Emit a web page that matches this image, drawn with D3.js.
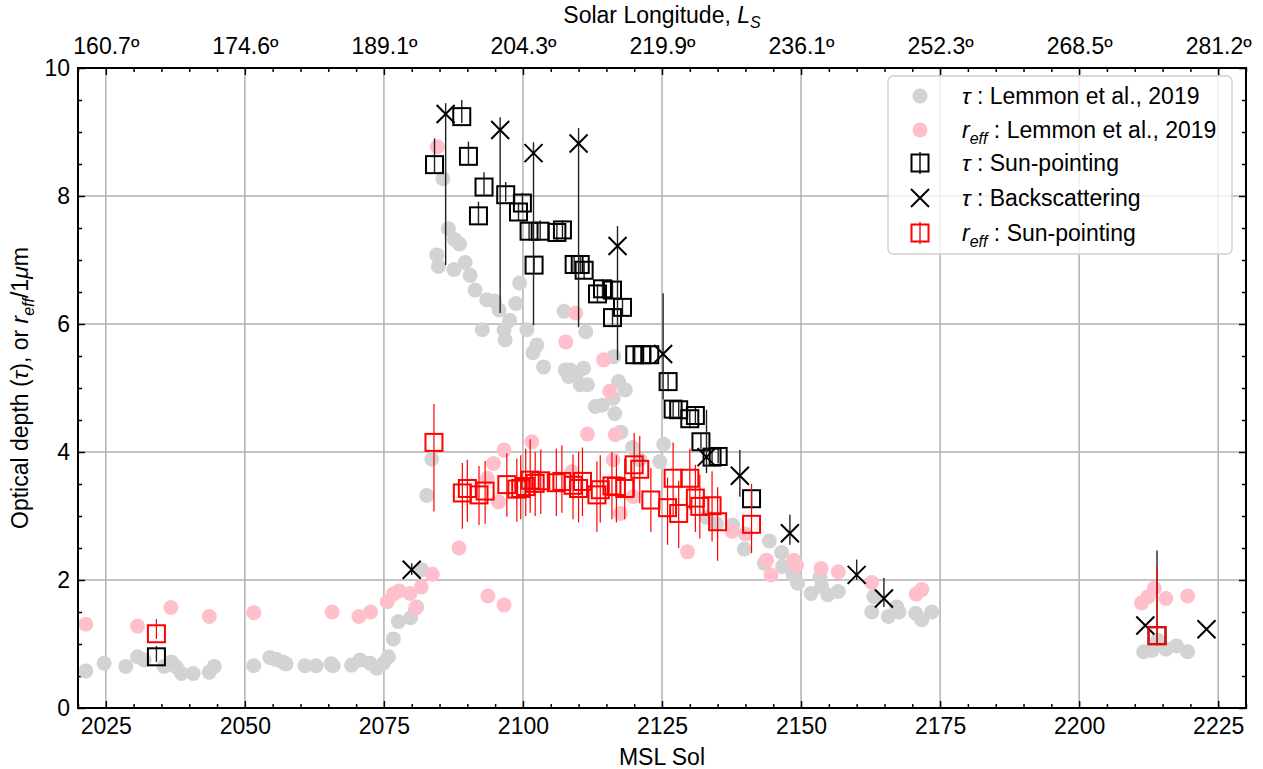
<!DOCTYPE html>
<html>
<head>
<meta charset="utf-8">
<script src="https://cdn.jsdelivr.net/npm/d3@7"></script>
<style>
  body { margin: 0; background: #fff; }
  svg { font-family: "Liberation Sans", Arial, sans-serif; }
</style>
</head>
<body>
<div id="chart"></div>
<script>
// ---- data ----
const solTicks = [2025, 2050, 2075, 2100, 2125, 2150, 2175, 2200, 2225];
const lsLabels = ["160.7º", "174.6º", "189.1º", "204.3º", "219.9º", "236.1º", "252.3º", "268.5º", "281.2º"];
const yTicks = [0, 2, 4, 6, 8, 10];

// Lemmon et al. 2019 optical depth  [sol, tau]
const lemmonTau = [
  [2021.4,0.58],[2024.7,0.70],[2028.6,0.65],[2030.7,0.80],[2031.9,0.75],[2035.5,0.65],[2036.8,0.72],
  [2037.7,0.64],[2038.6,0.54],[2040.7,0.54],[2043.6,0.56],[2044.5,0.65],[2051.6,0.66],[2054.5,0.79],
  [2055.6,0.76],[2056.8,0.72],[2057.4,0.69],[2060.8,0.66],[2062.8,0.66],[2065.5,0.69],[2065.9,0.66],
  [2069.2,0.67],[2070.7,0.75],[2072.5,0.70],[2073.7,0.62],[2074.9,0.70],[2075.8,0.80],[2076.7,1.08],
  [2077.6,1.35],[2079.8,1.41],[2080.9,1.58],[2081.8,2.16],[2082.7,3.32],[2083.6,3.89],
  [2084.5,7.08],[2084.8,6.90],[2085.6,8.27],[2086.6,7.49],[2087.7,7.32],[2088.6,7.25],[2087.6,6.85],
  [2089.6,6.96],[2090.5,6.76],[2091.4,6.53],[2093.5,6.38],[2094.9,6.36],[2095.7,6.22],[2092.7,5.91],
  [2096.6,5.91],[2096.8,5.75],[2097.6,6.06],[2098.7,6.32],[2099.4,6.64],[2100.7,5.91],[2101.8,5.55],
  [2102.5,5.67],[2103.7,5.33],[2107.4,6.20],[2107.6,5.28],[2108.2,5.18],[2108.5,5.28],[2109.7,5.23],
  [2110.9,5.31],[2111.3,5.88],[2110.3,5.05],[2111.6,5.05],[2113.0,4.71],[2114.2,4.73],[2116.2,4.84],
  [2116.5,4.60],[2117.2,5.10],[2118.4,4.97],[2116.3,5.49],[2117.6,4.31],[2119.7,4.07],[2121.0,3.88],
  [2124.6,3.85],[2125.3,4.12],[2133.0,2.98],[2134.8,2.88],[2137.7,2.86],[2139.8,2.48],[2144.3,2.61],
  [2143.4,2.26],[2146.5,2.43],[2146.7,2.21],[2148.6,2.08],[2149.4,1.95],[2151.8,1.79],[2153.4,2.05],
  [2153.7,1.90],[2154.8,1.77],[2156.7,1.82],[2163.1,1.74],[2162.7,1.50],[2165.7,1.43],[2167.2,1.58],
  [2167.6,1.50],[2170.6,1.48],[2171.7,1.38],[2173.5,1.50],[2211.6,0.88],[2213.1,0.90],[2214.1,1.06],
  [2215.6,0.92],[2217.5,0.97],[2219.5,0.88]
];

// Lemmon et al. 2019 effective radius  [sol, reff]
const lemmonReff = [
  [2021.4,1.31],[2030.7,1.28],[2036.7,1.57],[2043.6,1.43],[2051.6,1.49],[2065.7,1.50],[2070.5,1.43],
  [2072.6,1.50],[2075.6,1.66],[2076.7,1.78],[2077.7,1.83],[2079.7,1.79],[2080.7,1.56],[2081.7,1.89],
  [2083.7,2.09],[2084.6,8.77],[2088.5,2.50],[2093.6,3.59],[2093.7,1.75],[2094.7,3.82],[2095.6,3.22],
  [2096.6,4.03],[2096.6,1.61],[2101.6,4.16],[2107.7,5.72],[2108.8,3.69],[2109.5,6.17],[2111.6,4.28],
  [2114.5,5.44],[2115.6,4.95],[2116.2,3.88],[2116.6,4.27],[2117.5,3.04],[2119.8,3.30],[2129.6,2.44],
  [2137.6,2.76],[2140.0,2.72],[2143.8,2.31],[2144.6,2.08],[2148.7,2.31],[2149.2,2.23],[2153.6,2.18],
  [2156.7,2.13],[2162.7,1.96],[2170.7,1.78],[2171.7,1.85],[2211.2,1.64],[2212.4,1.74],[2213.5,1.87],
  [2215.6,1.71],[2219.5,1.75]
];

// tau, sun-pointing  [sol, tau, low, high]
const sunTau = [
  [2034.1,0.80,0.72,0.97],[2084.1,8.49,8.35,8.90],[2089.0,9.24,9.14,9.50],[2090.2,8.62,8.48,8.85],
  [2093.0,8.14,8.02,8.37],[2092.0,7.69,7.55,7.91],[2096.9,8.02,7.91,8.22],[2099.9,7.89,7.75,8.05],
  [2099.2,7.75,7.62,7.90],[2101.1,7.45,7.30,7.60],[2103.1,7.45,7.30,7.62],[2106.1,7.43,7.30,7.58],
  [2107.1,7.47,7.33,7.62],[2102.0,6.92,6.80,7.05],[2109.2,6.93,6.80,7.07],[2110.3,6.93,6.80,7.07],
  [2111.0,6.84,6.70,6.98],[2113.4,6.47,6.33,6.62],[2114.3,6.55,6.40,6.70],[2116.1,6.53,6.40,6.68],
  [2117.9,6.26,6.12,6.40],[2116.1,6.10,5.95,6.25],[2120.1,5.52,5.40,5.65],[2121.4,5.52,5.40,5.65],
  [2122.8,5.52,5.40,5.65],[2126.1,5.10,4.95,5.25],[2127.0,4.67,4.55,4.80],[2128.0,4.66,4.55,4.80],
  [2130.0,4.52,4.40,4.65],[2131.0,4.57,4.45,4.70],[2132.0,4.16,4.05,4.30],[2134.0,3.92,3.82,4.05],
  [2135.1,3.93,3.82,4.05],[2141.1,3.27,3.15,3.40],[2214.0,1.13,0.98,2.46]
];

// tau, backscattering  [sol, tau, low, high]
const backTau = [
  [2080.0,2.16,2.08,2.26],[2086.1,9.28,6.92,9.45],[2095.9,9.03,6.17,9.23],[2101.9,8.67,5.98,8.84],
  [2110.0,8.82,5.95,9.06],[2117.0,7.22,5.44,7.53],[2125.2,5.53,4.82,6.48],[2133.0,3.92,3.67,4.66],
  [2139.0,3.63,3.30,4.03],[2148.0,2.73,2.55,3.02],[2160.0,2.08,2.00,2.32],[2164.9,1.71,1.58,2.03],
  [2211.9,1.29,1.29,1.29],[2222.9,1.23,1.23,1.23]
];

// reff, sun-pointing  [sol, reff, low, high]
const sunReff = [
  [2034.1,1.16,1.08,1.39],[2084.0,4.15,3.07,4.75],[2089.1,3.36,2.80,3.83],[2090.0,3.43,2.91,3.88],
  [2092.1,3.33,2.86,3.78],[2093.2,3.39,2.88,3.86],[2097.1,3.49,2.99,3.98],[2098.9,3.42,2.91,3.90],
  [2099.6,3.43,2.95,3.95],[2100.5,3.46,3.00,4.05],[2101.3,3.56,3.05,4.20],[2102.2,3.51,3.00,4.00],
  [2103.2,3.55,3.03,4.04],[2106.0,3.52,3.00,4.05],[2107.0,3.54,3.05,4.10],[2109.0,3.48,2.95,3.96],
  [2110.0,3.43,2.90,4.00],[2110.7,3.54,3.00,4.07],[2113.3,3.33,2.75,3.85],[2113.9,3.41,2.90,3.95],
  [2116.0,3.47,2.95,4.00],[2116.8,3.46,2.90,3.95],[2118.3,3.43,2.95,3.90],[2120.0,3.80,3.30,4.30],
  [2121.0,3.73,3.20,4.25],[2123.0,3.25,2.75,3.75],[2126.0,3.13,2.55,3.60],[2127.0,3.59,3.00,4.15],
  [2128.0,3.04,2.50,3.55],[2130.0,3.59,3.10,4.05],[2131.0,3.28,2.75,3.80],[2131.8,3.15,2.65,3.65],
  [2134.0,3.16,2.60,3.70],[2135.0,2.91,2.30,3.45],[2141.1,2.87,2.42,3.50],[2214.0,1.13,1.00,2.22]
];

// ---- layout ----
const width = 1263, height = 769;
const fs = "23px";
const x = d3.scaleLinear().domain([2020, 2230]).range([78, 1246]);
const y = d3.scaleLinear().domain([0, 10]).range([708, 68]);
const minorX = d3.range(2020, 2231, 5).filter(d => !solTicks.includes(d));
const minorY = d3.range(0, 10.01, 0.5).filter(d => d % 2 !== 0);

const svg = d3.select("#chart").append("svg")
  .attr("width", width).attr("height", height)
  .style("font-size", fs);

// grid
const grid = svg.append("g").attr("stroke", "#b0b0b0").attr("stroke-width", 1.5);
grid.selectAll("line.v").data(solTicks).enter().append("line")
  .attr("x1", d => x(d)).attr("x2", d => x(d)).attr("y1", y(0)).attr("y2", y(10));
grid.selectAll("line.h").data(yTicks).enter().append("line")
  .attr("x1", x(2020)).attr("x2", x(2230)).attr("y1", d => y(d)).attr("y2", d => y(d));

// axes (ticks pointing inward)
function styleAxis(g) {
  g.select(".domain").remove();
  g.selectAll(".tick line").attr("stroke", "#000").attr("stroke-width", 1.5);
  g.selectAll(".tick text").attr("fill", "#000").style("font-size", fs)
    .style("font-family", '"Liberation Sans", Arial, sans-serif');
}
svg.append("g").attr("transform", `translate(0,${y(0)})`)
  .call(d3.axisBottom(x).tickValues(solTicks).tickFormat(d3.format("d")).tickSizeInner(-7).tickSizeOuter(0).tickPadding(10))
  .call(styleAxis);
svg.append("g").attr("transform", `translate(0,${y(0)})`)
  .call(d3.axisBottom(x).tickValues(minorX).tickFormat("").tickSizeInner(-4).tickSizeOuter(0))
  .call(styleAxis);
svg.append("g").attr("transform", `translate(0,${y(10)})`)
  .call(d3.axisTop(x).tickValues(solTicks).tickFormat((d, i) => lsLabels[i]).tickSizeInner(-7).tickSizeOuter(0).tickPadding(14))
  .call(styleAxis);
svg.append("g").attr("transform", `translate(0,${y(10)})`)
  .call(d3.axisTop(x).tickValues(minorX).tickFormat("").tickSizeInner(-4).tickSizeOuter(0))
  .call(styleAxis);
svg.append("g").attr("transform", `translate(${x(2020)},0)`)
  .call(d3.axisLeft(y).tickValues(yTicks).tickFormat(d3.format("d")).tickSizeInner(-7).tickSizeOuter(0).tickPadding(8))
  .call(styleAxis);
svg.append("g").attr("transform", `translate(${x(2020)},0)`)
  .call(d3.axisLeft(y).tickValues(minorY).tickFormat("").tickSizeInner(-4).tickSizeOuter(0))
  .call(styleAxis);
svg.append("g").attr("transform", `translate(${x(2230)},0)`)
  .call(d3.axisRight(y).tickValues(yTicks).tickFormat("").tickSizeInner(-7).tickSizeOuter(0))
  .call(styleAxis);
svg.append("g").attr("transform", `translate(${x(2230)},0)`)
  .call(d3.axisRight(y).tickValues(minorY).tickFormat("").tickSizeInner(-4).tickSizeOuter(0))
  .call(styleAxis);

// data layers
const plot = svg.append("g");
plot.selectAll("circle.tau").data(lemmonTau).enter().append("circle")
  .attr("cx", d => x(d[0])).attr("cy", d => y(d[1])).attr("r", 7.5).attr("fill", "#d3d3d3");
plot.selectAll("circle.reff").data(lemmonReff).enter().append("circle")
  .attr("cx", d => x(d[0])).attr("cy", d => y(d[1])).attr("r", 7.5).attr("fill", "#ffc0cb");

function errBars(data, color, w) {
  plot.append("g").selectAll("line").data(data).enter().append("line")
    .attr("x1", d => x(d[0])).attr("x2", d => x(d[0]))
    .attr("y1", d => y(d[2])).attr("y2", d => y(d[3]))
    .attr("stroke", color).attr("stroke-width", w);
}
function squares(data, color) {
  plot.append("g").selectAll("rect").data(data).enter().append("rect")
    .attr("x", d => x(d[0]) - 8.5).attr("y", d => y(d[1]) - 8.5)
    .attr("width", 17).attr("height", 17)
    .attr("fill", "none").attr("stroke", color).attr("stroke-width", 2);
}

errBars(sunTau, "#222", 1.4);
squares(sunTau, "#000");
errBars(backTau, "#222", 1.4);
plot.append("g").selectAll("path").data(backTau).enter().append("path")
  .attr("transform", d => `translate(${x(d[0])},${y(d[1])})`)
  .attr("d", "M-9,-9L9,9M-9,9L9,-9")
  .attr("stroke", "#000").attr("stroke-width", 2).attr("fill", "none");
errBars(sunReff, "#ff0000", 1.2);
squares(sunReff, "#ff0000");

// frame
svg.append("rect").attr("x", x(2020)).attr("y", y(10))
  .attr("width", x(2230) - x(2020)).attr("height", y(0) - y(10))
  .attr("fill", "none").attr("stroke", "#000").attr("stroke-width", 2);

// axis titles
svg.append("text").attr("x", (x(2020) + x(2230)) / 2).attr("y", 765)
  .attr("text-anchor", "middle").style("font-size", fs).text("MSL Sol");

const topTitle = svg.append("text").attr("x", (x(2020) + x(2230)) / 2).attr("y", 23)
  .attr("text-anchor", "middle").style("font-size", fs);
topTitle.append("tspan").text("Solar Longitude, ");
topTitle.append("tspan").attr("font-style", "italic").text("L");
topTitle.append("tspan").attr("font-style", "italic").attr("dy", 5).style("font-size", "16px").text("S");

const yl = svg.append("text")
  .attr("transform", `translate(28,${(y(0) + y(10)) / 2}) rotate(-90)`)
  .attr("text-anchor", "middle").style("font-size", fs);
yl.append("tspan").text("Optical depth (");
yl.append("tspan").attr("font-style", "italic").text("τ");
yl.append("tspan").text("), or ");
yl.append("tspan").attr("font-style", "italic").text("r");
yl.append("tspan").attr("font-style", "italic").attr("dy", 6).style("font-size", "16px").text("eff");
yl.append("tspan").attr("dy", -6).text("/1");
yl.append("tspan").attr("font-style", "italic").text("μ");
yl.append("tspan").text("m");

// legend
const lg = svg.append("g").attr("transform", "translate(888,76)");
lg.append("rect").attr("width", 344).attr("height", 178).attr("rx", 5)
  .attr("fill", "#fff").attr("fill-opacity", 0.8).attr("stroke", "#d0d0d0").attr("stroke-width", 1.5);
const rows = [20, 54, 87, 122, 157];
const mx = 32, tx = 74;
lg.append("circle").attr("cx", mx).attr("cy", rows[0]).attr("r", 7.5).attr("fill", "#d3d3d3");
lg.append("circle").attr("cx", mx).attr("cy", rows[1]).attr("r", 7.5).attr("fill", "#ffc0cb");
[[rows[2], "#000"], [rows[4], "#ff0000"]].forEach(([ry, c]) => {
  lg.append("line").attr("x1", mx).attr("x2", mx).attr("y1", ry - 11).attr("y2", ry + 11)
    .attr("stroke", c).attr("stroke-width", 1.4);
  lg.append("rect").attr("x", mx - 8.5).attr("y", ry - 8.5).attr("width", 17).attr("height", 17)
    .attr("fill", "none").attr("stroke", c).attr("stroke-width", 2);
});
lg.append("path").attr("transform", `translate(${mx},${rows[3]})`)
  .attr("d", "M-9,-9L9,9M-9,9L9,-9").attr("stroke", "#000").attr("stroke-width", 2);

const labels = [
  [["τ", true, 0], [" : Lemmon et al., 2019", false, 0]],
  [["r", true, 0], ["eff", true, 1], [" : Lemmon et al., 2019", false, -1]],
  [["τ", true, 0], [" : Sun-pointing", false, 0]],
  [["τ", true, 0], [" : Backscattering", false, 0]],
  [["r", true, 0], ["eff", true, 1], [" : Sun-pointing", false, -1]]
];
labels.forEach((parts, i) => {
  const t = lg.append("text").attr("x", tx).attr("y", rows[i] + 8).style("font-size", fs);
  parts.forEach(([s, it, sub]) => {
    const sp = t.append("tspan").text(s);
    if (it) sp.attr("font-style", "italic");
    if (sub === 1) sp.attr("dy", 6).style("font-size", "16px");
    if (sub === -1) sp.attr("dy", -6);
  });
});
</script>
</body>
</html>
